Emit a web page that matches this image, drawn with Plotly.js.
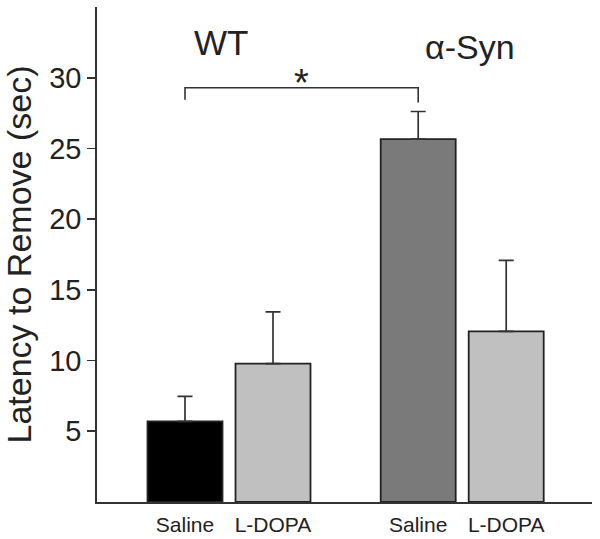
<!DOCTYPE html>
<html>
<head>
<meta charset="utf-8">
<script src="https://cdn.plot.ly/plotly-3.0.1.min.js"></script>
<style>html,body{margin:0;padding:0;background:#fff;}#chart{width:600px;height:539px;}</style>
</head>
<body>
<div id="chart"></div>
<script>
// ---- data ----
const groups = ['WT', 'α-Syn'];
const conditions = ['Saline', 'L-DOPA'];
const means = [5.7, 9.78, 25.66, 12.06];     // WT Saline, WT L-DOPA, α-Syn Saline, α-Syn L-DOPA
const errors = [1.77, 3.67, 1.95, 5.02];     // upper error
const barColors = ['#000000', '#c0c0c0', '#7a7a7a', '#c0c0c0'];
const yTicks = [5, 10, 15, 20, 25, 30];
const sigLabel = '*';

// ---- layout helpers ----
const GROUP_STEP = 2.65;
const xPos = [];
const xLabels = [];
groups.forEach((g, gi) => conditions.forEach((c, ci) => {
  xPos.push(gi * GROUP_STEP + ci + 1);
  xLabels.push(c);
}));
const groupCenters = groups.map((g, gi) => gi * GROUP_STEP + 1.5);

const bars = {
  type: 'bar',
  x: xPos,
  y: means,
  width: 0.852,
  marker: {color: barColors, line: {color: '#222', width: 1.8}},
  error_y: {type: 'data', array: errors, arrayminus: errors.map(() => 0), symmetric: false,
            color: '#333', thickness: 1.7, width: 7.5},
  hoverinfo: 'skip',
  showlegend: false
};

const bx1 = xPos[0], bx2 = xPos[2];
const FONT = 'Liberation Sans, Arial, Helvetica, sans-serif';
const layout = {
  width: 600, height: 539,
  margin: {l: 97, r: 8, t: 7, b: 37},
  paper_bgcolor: '#fff', plot_bgcolor: '#fff',
  font: {family: FONT, color: '#222'},
  bargap: 0,
  xaxis: {
    range: [0, 5.625], showgrid: false, zeroline: false,
    showline: true, linecolor: '#333', linewidth: 1.7,
    tickmode: 'array', tickvals: xPos, ticktext: xLabels,
    ticks: 'outside', ticklen: 3, tickcolor: 'rgba(0,0,0,0)',
    tickfont: {size: 21, color: '#222'}
  },
  yaxis: {
    range: [0, 35], showgrid: false, zeroline: false,
    showline: true, linecolor: '#333', linewidth: 1.7,
    tickmode: 'array', tickvals: yTicks, ticks: 'outside', ticklen: 8,
    tickcolor: '#333', tickwidth: 1.6,
    tickfont: {size: 29, color: '#222'},
    title: {text: 'Latency to Remove (sec)', font: {size: 34, color: '#222'}, standoff: 8}
  },
  shapes: [{
    type: 'path', xref: 'x', yref: 'y',
    path: `M ${bx1} 28.44 L ${bx1} 29.29 L ${bx2} 29.29 L ${bx2} 28.25`,
    line: {color: '#333', width: 1.6}
  }],
  annotations: [
    {x: groupCenters[0] - 0.09, y: 32.5, xref: 'x', yref: 'y', text: groups[0], showarrow: false,
     font: {size: 35, color: '#222'}},
    {x: groupCenters[1] + 0.09, y: 32.2, xref: 'x', yref: 'y', text: groups[1], showarrow: false,
     font: {size: 34, color: '#222'}},
    {x: (bx1 + bx2) / 2, y: 29.29, xref: 'x', yref: 'y', text: sigLabel, showarrow: false,
     yanchor: 'bottom', font: {size: 38, color: '#222'}, yshift: -18}
  ]
};

Plotly.newPlot('chart', [bars], layout, {staticPlot: true, displayModeBar: false});
</script>
</body>
</html>
